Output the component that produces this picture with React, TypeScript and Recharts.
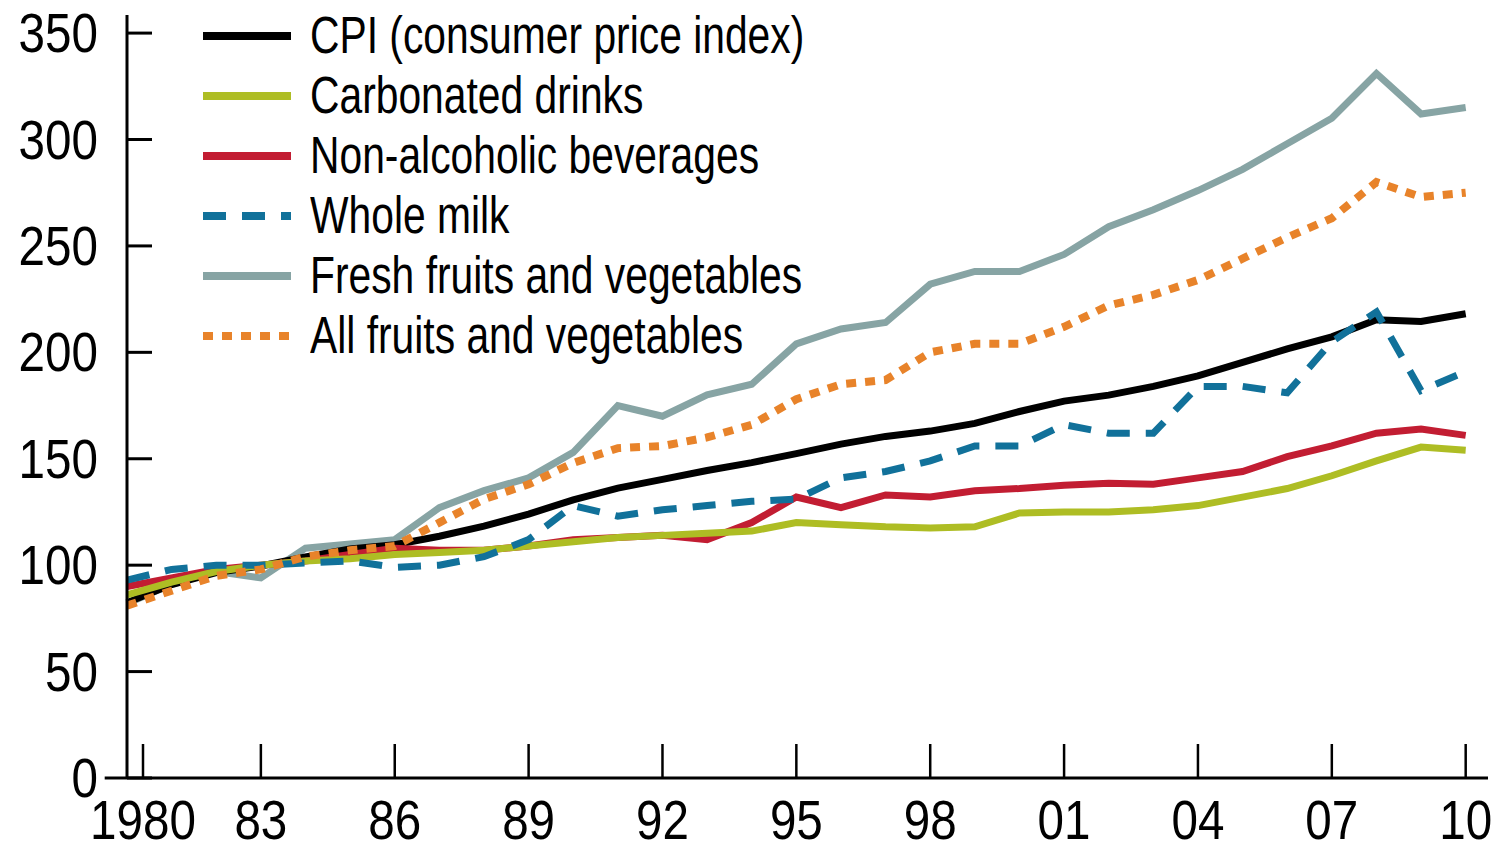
import { CartesianGrid, Legend, Line, LineChart, ReferenceLine, XAxis, YAxis } from "recharts";

const years = [
  1980, 1981, 1982, 1983, 1984, 1985, 1986, 1987, 1988, 1989, 1990, 1991, 1992, 1993, 1994, 1995,
  1996, 1997, 1998, 1999, 2000, 2001, 2002, 2003, 2004, 2005, 2006, 2007, 2008, 2009, 2010,
];

const cpi = [
  82.4, 90.9, 96.5, 99.6, 103.9, 107.6, 109.6, 113.6, 118.3, 124.0, 130.7, 136.2, 140.3, 144.5, 148.2, 152.4,
  156.9, 160.5, 163.0, 166.6, 172.2, 177.1, 179.9, 184.0, 188.9, 195.3, 201.6, 207.3, 215.3, 214.5, 218.1,
];
const carbonated = [
  86, 92, 97, 100, 102, 103, 105, 106, 107, 109, 111, 113, 114, 115, 116, 120,
  119, 118, 117.5, 118, 124.5, 125, 125, 126, 128, 132, 136, 142, 149, 155.5, 154,
];
const nonAlcoholic = [
  90, 94, 98, 100, 102, 105, 108, 107, 107, 109, 112, 113, 114, 112, 120, 132,
  127, 133, 132, 135, 136, 137.5, 138.5, 138, 141, 144, 151, 156, 162, 164, 161,
];
const wholeMilk = [
  93, 98, 100, 100, 101, 102, 99, 100, 104, 112, 128, 123, 126, 128, 130, 131,
  141, 144, 149, 156, 156, 166, 162, 162, 184, 184, 181, 205, 219, 182, 191,
];
const freshFruitVeg = [
  82, 91, 97, 94, 108, 110, 112, 127, 135, 141, 153, 175, 170, 180, 185, 204,
  211, 214, 232, 238, 238, 246, 259, 267, 276, 286, 298, 310, 331, 312, 315,
];
const allFruitVeg = [
  81, 88, 95, 98, 104, 107, 109, 120, 131, 138, 148, 155, 156, 160, 166, 178,
  185, 187, 200, 204, 204, 212, 222, 227, 234, 244, 254, 263, 280, 273, 275,
];

const xTicks = [1980, 1983, 1986, 1989, 1992, 1995, 1998, 2001, 2004, 2007, 2010];
const yTicks = [0, 50, 100, 150, 200, 250, 300, 350];

const series = [
  { key: "cpi", name: "CPI (consumer price index)", color: "#000000", dash: undefined, width: 7 },
  { key: "carbonated", name: "Carbonated drinks", color: "#aebd24", dash: undefined, width: 7 },
  { key: "nonAlcoholic", name: "Non-alcoholic beverages", color: "#c21d32", dash: undefined, width: 7 },
  { key: "wholeMilk", name: "Whole milk", color: "#11719a", dash: "23 16", width: 7 },
  { key: "freshFruitVeg", name: "Fresh fruits and vegetables", color: "#87a4a4", dash: undefined, width: 7 },
  { key: "allFruitVeg", name: "All fruits and vegetables", color: "#e8832a", dash: "10 9", width: 8 },
];

// drawing order differs from legend order so the dotted/dashed lines sit on top
const drawOrder = ["freshFruitVeg", "cpi", "nonAlcoholic", "carbonated", "wholeMilk", "allFruitVeg"];

const data = years.map((year, i) => ({
  year,
  cpi: cpi[i],
  carbonated: carbonated[i],
  nonAlcoholic: nonAlcoholic[i],
  wholeMilk: wholeMilk[i],
  freshFruitVeg: freshFruitVeg[i],
  allFruitVeg: allFruitVeg[i],
}));

// no condensed face installed, so squeeze Liberation Sans horizontally
const FONT = "'Liberation Sans', Arial, sans-serif";
const TICK_SQUEEZE = 0.85;
const LEGEND_SQUEEZE = 0.8;

function YTick(props: any) {
  const { x, y, payload } = props;
  return (
    <g>
      <line x1={x} x2={x + 25} y1={y} y2={y} stroke="#000" strokeWidth={3} />
      <text
        transform={`translate(${x - 29},${y + 19}) scale(${TICK_SQUEEZE},1)`}
        textAnchor="end"
        fontFamily={FONT}
        fontSize={56}
        fill="#000"
      >
        {payload.value}
      </text>
    </g>
  );
}

function XTick(props: any) {
  const { x, y, payload } = props;
  const value = Number(payload.value);
  const label = value === 1980 ? "1980" : String(value).slice(2);
  const tx = value === 1980 ? x + 16 : x;
  return (
    <g>
      <line x1={tx} x2={tx} y1={y} y2={y - 34} stroke="#000" strokeWidth={2.5} />
      <text
        transform={`translate(${tx},${y + 61}) scale(${TICK_SQUEEZE},1)`}
        textAnchor="middle"
        fontFamily={FONT}
        fontSize={56}
        fill="#000"
      >
        {label}
      </text>
    </g>
  );
}

function LegendBox() {
  return (
    <div style={{ fontFamily: FONT, fontSize: 51, color: "#000" }}>
      {series.map((s) => (
        <div key={s.key} style={{ display: "flex", alignItems: "center", height: 60 }}>
          <svg width={90} height={12} style={{ marginRight: 17, flex: "none" }}>
            <line x1={0} x2={88} y1={6} y2={6} stroke={s.color} strokeWidth={8} strokeDasharray={s.dash} />
          </svg>
          <span
            style={{
              display: "inline-block",
              lineHeight: "60px",
              whiteSpace: "nowrap",
              transform: `scaleX(${LEGEND_SQUEEZE})`,
              transformOrigin: "left center",
            }}
          >
            {s.name}
          </span>
        </div>
      ))}
    </div>
  );
}

export default function App() {
  return (
    <div style={{ position: "absolute", left: 0, top: 0, width: 1494, height: 846, background: "#fff" }}>
      <LineChart width={1494} height={846} data={data} margin={{ top: 15, right: 6, left: 0, bottom: 0 }}>
        <CartesianGrid stroke="none" />
        <XAxis
          dataKey="year"
          type="number"
          domain={[1980, 2010.5]}
          ticks={xTicks}
          height={68}
          tickSize={0}
          tickMargin={0}
          tickLine={false}
          axisLine={{ stroke: "#000", strokeWidth: 3 }}
          tick={<XTick />}
          interval={0}
        />
        <YAxis
          type="number"
          domain={[0, 358.5]}
          ticks={yTicks}
          width={127}
          tickSize={0}
          tickMargin={0}
          tickLine={false}
          axisLine={{ stroke: "#000", strokeWidth: 3 }}
          tick={<YTick />}
          interval={0}
        />
        <ReferenceLine
          segment={[
            { x: 1979.5, y: 0 },
            { x: 1980, y: 0 },
          ]}
          stroke="#000"
          strokeWidth={3}
          ifOverflow="visible"
        />
        {drawOrder.map((key) => {
          const s = series.find((item) => item.key === key)!;
          return (
            <Line
              key={s.key}
              type="linear"
              dataKey={s.key}
              name={s.name}
              stroke={s.color}
              strokeWidth={s.width}
              strokeDasharray={s.dash}
              strokeLinejoin="miter"
              dot={false}
              activeDot={false}
              isAnimationActive={false}
            />
          );
        })}
        <Legend
          layout="vertical"
          align="center"
          verticalAlign="middle"
          content={<LegendBox />}
          wrapperStyle={{ left: 203, top: 6, width: 720, height: 360 }}
        />
      </LineChart>
    </div>
  );
}
